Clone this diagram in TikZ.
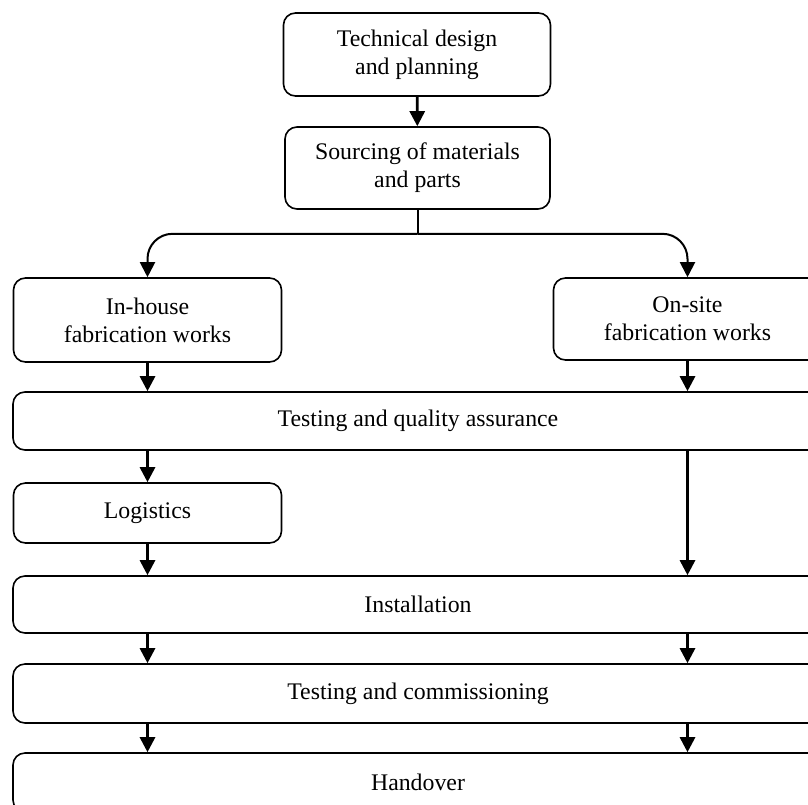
\documentclass[tikz,border=0pt]{standalone}
\usepackage{fontspec}
\setmainfont{Liberation Serif}
\usetikzlibrary{arrows.meta}

\begin{document}
\begin{tikzpicture}[x=1pt,y=-1pt,
  box/.style={draw,line width=1.6pt,rounded corners=12pt,align=center,
    inner sep=0pt,font=\fontsize{23.8}{28}\selectfont},
  small/.style={box,minimum width=268pt},
  wide/.style={box,minimum width=810pt},
  flow/.style={line width=2.8pt,-{Triangle[length=15pt,width=15pt]}}]
  \useasboundingbox (0,0) rectangle (808,804);
  \clip (0,0) rectangle (808,804);
  % top column
  \node[small,minimum width=267pt,minimum height=83pt] (design) at (417,54.5) {Technical design\\and planning};
  \node[small,minimum width=265pt,minimum height=82pt] (sourcing) at (417.5,168) {Sourcing of materials\\and parts};
  % two fabrication routes
  \node[small,minimum height=84pt] (inhouse) at (147.5,320) {In-house\\fabrication works};
  \node[small,minimum height=82pt] (onsite) at (687.5,319) {On-site\\fabrication works};
  % full width stages
  \node[wide,minimum height=58pt] (qa) at (418,421) {Testing and quality assurance};
  \node[small,minimum height=60pt] (logistics) at (147.5,513) {Logistics};
  \node[wide,minimum height=57pt] (install) at (418,604.5) {Installation};
  \node[wide,minimum height=59pt] (tc) at (418,693.5) {Testing and commissioning};
  \node[wide,minimum height=59pt] (handover) at (418,782.5) {Handover};
  \coordinate (split) at ([yshift=-24pt]sourcing.south);

  \draw[flow] (design) -- (sourcing);
  \draw[line width=2pt] (sourcing.south) -- (split);
  \draw[flow,line width=2pt,rounded corners=25pt] (split) -| (inhouse.north);
  \draw[flow,line width=2pt,rounded corners=25pt] (split) -| (onsite.north);
  \draw[flow] (inhouse.south) -- (inhouse.south |- qa.north);
  \draw[flow] (onsite.south) -- (onsite.south |- qa.north);
  \draw[flow] (qa.south -| logistics) -- (logistics.north);
  \draw[flow] (logistics.south) -- (logistics.south |- install.north);
  \draw[flow] (qa.south -| onsite) -- (install.north -| onsite);
  \foreach \col in {inhouse,onsite} {
    \draw[flow] (install.south -| \col) -- (tc.north -| \col);
    \draw[flow] (tc.south -| \col) -- (handover.north -| \col);
  }
\end{tikzpicture}
\end{document}
